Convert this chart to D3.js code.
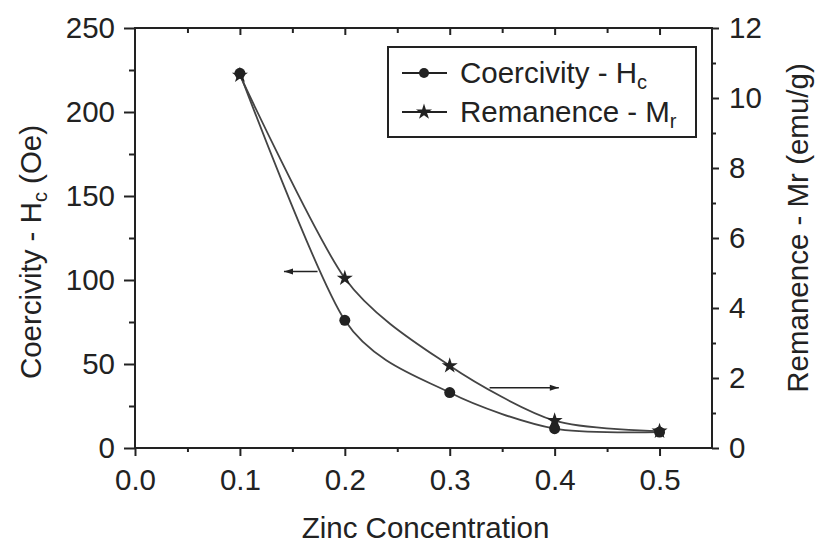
<!DOCTYPE html>
<html>
<head>
<meta charset="utf-8">
<script src="https://cdn.jsdelivr.net/npm/d3@7"></script>
<style>
  body { margin: 0; background: #fff; }
  text { font-family: "Liberation Sans", Arial, sans-serif; fill: #222; }
</style>
</head>
<body>
<svg id="chart" width="817" height="544"></svg>
<script>
// data
const zinc = [0.1, 0.2, 0.3, 0.4, 0.5];
const coercivity = [223, 76, 33, 11.5, 9.5];     // Oe, left axis
const remanence = [10.65, 4.85, 2.35, 0.78, 0.48]; // emu/g, right axis
const xTicks = [0.0, 0.1, 0.2, 0.3, 0.4, 0.5];
const hcTicks = [0, 50, 100, 150, 200, 250];
const mrTicks = [0, 2, 4, 6, 8, 10, 12];

const svg = d3.select("#chart");
const margin = {top: 28, right: 105, bottom: 96, left: 135};
const W = 817, H = 544;
const x0 = margin.left, x1 = W - margin.right;
const y0 = H - margin.bottom, y1 = margin.top;

let x = d3.scaleLinear().domain([0, 0.55]).range([x0, x1]);
let yHc = d3.scaleLinear().domain([0, 250]).range([y0, y1]);
let yMr = d3.scaleLinear().domain([0, 12]).range([y0, y1]);

const ink = "#222";
const FS = 29.5;
const SUB = 20;

// frame
svg.append("rect")
    .attr("x", x0).attr("y", y1)
    .attr("width", x1 - x0).attr("height", y0 - y1)
    .attr("fill", "none").attr("stroke", ink).attr("stroke-width", 2);

// bottom axis
let gx = svg.append("g").attr("transform", "translate(0," + y0 + ")")
    .call(d3.axisBottom(x).tickValues(xTicks).tickFormat(d3.format(".1f")).tickSize(8).tickPadding(13));
gx.select(".domain").remove();
gx.selectAll("line").attr("stroke", ink).attr("stroke-width", 2);
gx.selectAll("text").attr("font-size", FS).attr("fill", ink);
svg.append("g").attr("transform", "translate(0," + y0 + ")")
    .call(d3.axisBottom(x).tickValues(d3.range(0.05, 0.55, 0.1)).tickFormat("").tickSize(4))
    .call(g => g.select(".domain").remove())
    .selectAll("line").attr("stroke", ink).attr("stroke-width", 2);

// top ticks (inward)
svg.append("g").attr("transform", "translate(0," + y1 + ")")
    .call(d3.axisBottom(x).tickValues(xTicks.slice(1)).tickFormat("").tickSize(7))
    .call(g => g.select(".domain").remove())
    .selectAll("line").attr("stroke", ink).attr("stroke-width", 2);
svg.append("g").attr("transform", "translate(0," + y1 + ")")
    .call(d3.axisBottom(x).tickValues(d3.range(0.05, 0.55, 0.1)).tickFormat("").tickSize(5))
    .call(g => g.select(".domain").remove())
    .selectAll("line").attr("stroke", ink).attr("stroke-width", 2);

// left axis
let gl = svg.append("g").attr("transform", "translate(" + x0 + ",0)")
    .call(d3.axisLeft(yHc).tickValues(hcTicks).tickSize(11).tickPadding(9));
gl.select(".domain").remove();
gl.selectAll("line").attr("stroke", ink).attr("stroke-width", 2);
gl.selectAll("text").attr("font-size", FS).attr("fill", ink);
svg.append("g").attr("transform", "translate(" + x0 + ",0)")
    .call(d3.axisLeft(yHc).tickValues(d3.range(25, 250, 50)).tickFormat("").tickSize(6))
    .call(g => g.select(".domain").remove())
    .selectAll("line").attr("stroke", ink).attr("stroke-width", 2);

// right axis
let gr = svg.append("g").attr("transform", "translate(" + x1 + ",0)")
    .call(d3.axisRight(yMr).tickValues(mrTicks).tickSize(7).tickPadding(10));
gr.select(".domain").remove();
gr.selectAll("line").attr("stroke", ink).attr("stroke-width", 2);
gr.selectAll("text").attr("font-size", FS).attr("fill", ink);
svg.append("g").attr("transform", "translate(" + x1 + ",0)")
    .call(d3.axisRight(yMr).tickValues(d3.range(1, 12, 2)).tickFormat("").tickSize(4))
    .call(g => g.select(".domain").remove())
    .selectAll("line").attr("stroke", ink).attr("stroke-width", 2);

// axis titles
svg.append("text")
    .attr("x", (x0 + x1) / 2 + 2).attr("y", 538)
    .attr("text-anchor", "middle").attr("font-size", FS)
    .text("Zinc Concentration");

let lt = svg.append("text")
    .attr("transform", "translate(41," + 252 + ") rotate(-90)")
    .attr("text-anchor", "middle").attr("font-size", FS);
lt.append("tspan").text("Coercivity - H");
lt.append("tspan").attr("font-size", SUB).attr("dy", 6).text("c");
lt.append("tspan").attr("dy", -6).text(" (Oe)");

svg.append("text")
    .attr("transform", "translate(808," + 228 + ") rotate(-90)")
    .attr("text-anchor", "middle").attr("font-size", FS)
    .text("Remanence - Mr (emu/g)");

// curves
const hcData = zinc.map((z, i) => [z, coercivity[i]]);
const mrData = zinc.map((z, i) => [z, remanence[i]]);

let lineHc = d3.line().x(d => x(d[0])).y(d => yHc(d[1])).curve(d3.curveCardinal.tension(0.2));
let lineMr = d3.line().x(d => x(d[0])).y(d => yMr(d[1])).curve(d3.curveCardinal.tension(0.2));

svg.append("path").datum(mrData).attr("d", lineMr)
    .attr("fill", "none").attr("stroke", "#444").attr("stroke-width", 1.8);
svg.append("path").datum(hcData).attr("d", lineHc)
    .attr("fill", "none").attr("stroke", "#444").attr("stroke-width", 1.8);

let star = d3.symbol().type(d3.symbolStar).size(80);

svg.selectAll(".star").data(mrData).join("path")
    .attr("class", "star")
    .attr("transform", d => "translate(" + x(d[0]) + "," + yMr(d[1]) + ")")
    .attr("d", star).attr("fill", ink);

svg.selectAll(".dot").data(hcData).join("circle")
    .attr("class", "dot")
    .attr("cx", d => x(d[0])).attr("cy", d => yHc(d[1]))
    .attr("r", 5.5).attr("fill", ink);

// arrows pointing to the axis each curve belongs to
const arrowHc = [[0.174, 105], [0.142, 105]];
const arrowMr = [[0.338, 1.72], [0.404, 1.72]];

function drawArrow(pts, ys) {
    let a = pts.map(p => [x(p[0]), ys(p[1])]);
    svg.append("line")
        .attr("x1", a[0][0]).attr("y1", a[0][1])
        .attr("x2", a[1][0]).attr("y2", a[1][1])
        .attr("stroke", ink).attr("stroke-width", 1.5);
    let dir = Math.sign(a[1][0] - a[0][0]);
    let tip = a[1];
    svg.append("path")
        .attr("d", "M" + tip[0] + "," + tip[1] +
            "L" + (tip[0] - dir * 9) + "," + (tip[1] - 3) +
            "L" + (tip[0] - dir * 9) + "," + (tip[1] + 3) + "Z")
        .attr("fill", ink);
}
drawArrow(arrowHc, yHc);
drawArrow(arrowMr, yMr);

// legend
let lg = svg.append("g");
lg.append("rect")
    .attr("x", 388).attr("y", 47).attr("width", 308).attr("height", 90)
    .attr("fill", "#fff").attr("stroke", ink).attr("stroke-width", 2);

const legendRows = [
    {label: "Coercivity - H", sub: "c", mark: "dot", y: 73},
    {label: "Remanence - M", sub: "r", mark: "star", y: 112}
];
legendRows.forEach(r => {
    lg.append("line").attr("x1", 402).attr("x2", 447).attr("y1", r.y).attr("y2", r.y)
        .attr("stroke", ink).attr("stroke-width", 1.8);
    if (r.mark === "dot") {
        lg.append("circle").attr("cx", 424).attr("cy", r.y).attr("r", 5).attr("fill", ink);
    } else {
        lg.append("path").attr("transform", "translate(424," + r.y + ")")
            .attr("d", star).attr("fill", ink);
    }
    let t = lg.append("text").attr("x", 460).attr("y", r.y + 10).attr("font-size", FS);
    t.append("tspan").text(r.label);
    t.append("tspan").attr("font-size", SUB).attr("dy", 6).text(r.sub);
});
</script>
</body>
</html>
